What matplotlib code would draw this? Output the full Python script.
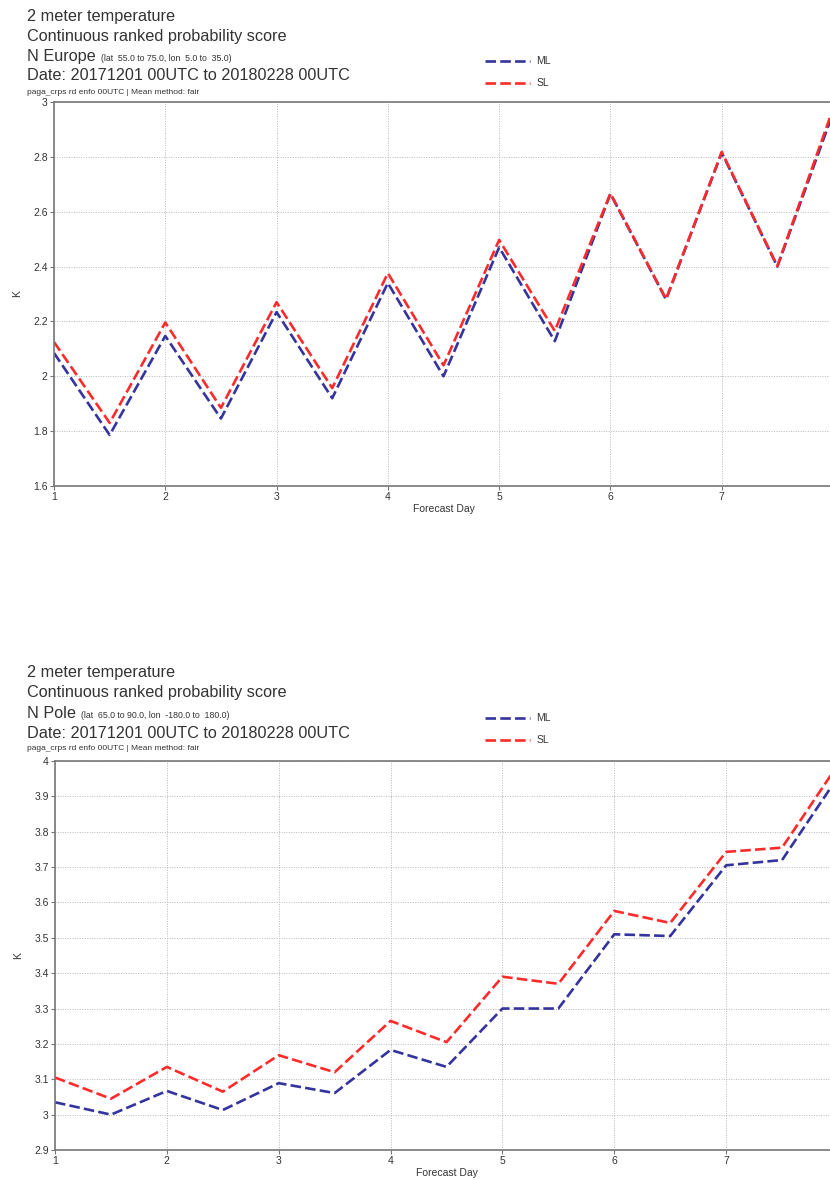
import matplotlib
matplotlib.use("Agg")
import matplotlib.pyplot as plt
from matplotlib.ticker import FuncFormatter, MultipleLocator

plt.rcParams["font.family"] = ["Liberation Sans", "DejaVu Sans"]

# Forecast steps (days)
days = [1, 1.5, 2, 2.5, 3, 3.5, 4, 4.5, 5, 5.5, 6, 6.5, 7, 7.5, 8]

# N Europe CRPS (K)
eu_ml = [2.085, 1.786, 2.147, 1.846, 2.234, 1.92, 2.34, 2.0, 2.47, 2.128,
         2.665, 2.28, 2.815, 2.40, 2.96]
eu_sl = [2.125, 1.83, 2.196, 1.885, 2.27, 1.957, 2.376, 2.04, 2.497, 2.165,
         2.667, 2.282, 2.818, 2.402, 2.975]

# N Pole CRPS (K)
np_ml = [3.035, 3.0, 3.067, 3.013, 3.089, 3.061, 3.183, 3.135, 3.30, 3.30,
         3.51, 3.505, 3.705, 3.72, 3.955]
np_sl = [3.105, 3.045, 3.135, 3.065, 3.168, 3.12, 3.265, 3.205, 3.39, 3.37,
         3.576, 3.542, 3.743, 3.755, 3.99]

series_labels = ["ML", "SL"]
series_colors = ["#34349e", "#ff2b2b"]

panels = [
    dict(region="N Europe", bounds="(lat  55.0 to 75.0, lon  5.0 to  35.0)",
         ml=eu_ml, sl=eu_sl, ylim=(1.6, 3.0), ystep=0.2),
    dict(region="N Pole", bounds="(lat  65.0 to 90.0, lon  -180.0 to  180.0)",
         ml=np_ml, sl=np_sl, ylim=(2.9, 4.0), ystep=0.1),
]

W, H = 830, 1180
fig = plt.figure(figsize=(W / 100, H / 100), dpi=100)
renderer = fig.canvas.get_renderer()

# pixel layout of each panel: axes left/right/top/bottom, title top offset
layouts = [dict(ax_left=54, ax_right=833, ax_top=102, ax_bot=486, title_y=16),
           dict(ax_left=55, ax_right=838, ax_top=761, ax_bot=1150, title_y=673)]

text_grey = "#333333"

for p, lay in zip(panels, layouts):
    left = lay["ax_left"] / W
    width = (lay["ax_right"] - lay["ax_left"]) / W
    bottom = 1 - lay["ax_bot"] / H
    height = (lay["ax_bot"] - lay["ax_top"]) / H
    ax = fig.add_axes([left, bottom, width, height])

    lines = []
    for vals, lab, col in zip([p["ml"], p["sl"]], series_labels, series_colors):
        ln, = ax.plot(days, vals, color=col, lw=1.9, linestyle=(0, (4.0, 1.6)),
                      label=lab, dash_capstyle="butt")
        lines.append(ln)

    ax.set_xlim(1, 8)
    ax.set_ylim(*p["ylim"])
    ax.xaxis.set_major_locator(MultipleLocator(1))
    ax.yaxis.set_major_locator(MultipleLocator(p["ystep"]))
    ax.yaxis.set_major_formatter(FuncFormatter(lambda v, pos: f"{round(v, 3):g}"))
    ax.xaxis.set_major_formatter(FuncFormatter(lambda v, pos: f"{v:g}"))

    ax.grid(True, color="#b8b8b8", linestyle=(0, (1, 1.5)), linewidth=0.7)
    for side in ["left", "bottom", "top"]:
        ax.spines[side].set_color("#777777")
        ax.spines[side].set_linewidth(1.2)
    ax.spines["right"].set_visible(False)
    ax.tick_params(axis="both", labelsize=7.5, colors="#777777",
                   labelcolor=text_grey, length=3, width=0.8, pad=1.5)
    ax.set_xlabel("Forecast Day", fontsize=7.5, color=text_grey, labelpad=1)
    ax.set_ylabel("K", fontsize=7.5, color=text_grey, labelpad=8)

    # Title block
    tx = 27 / W
    y0 = lay["title_y"]
    big = 11.7
    fig.text(tx, 1 - y0 / H, "2 meter temperature", fontsize=big,
             color=text_grey, va="center")
    fig.text(tx, 1 - (y0 + 20) / H, "Continuous ranked probability score",
             fontsize=big, color=text_grey, va="center")
    t = fig.text(tx, 1 - (y0 + 45) / H, p["region"], fontsize=big,
                 color=text_grey, va="baseline")
    ext = t.get_window_extent(renderer)
    fig.text((ext.x1 + 5) / W, 1 - (y0 + 45) / H, p["bounds"], fontsize=6.3,
             color=text_grey, va="baseline")
    fig.text(tx, 1 - (y0 + 60) / H, "Date: 20171201 00UTC to 20180228 00UTC",
             fontsize=big, color=text_grey, va="center")
    fig.text(tx, 1 - (y0 + 76) / H, "paga_crps rd enfo 00UTC | Mean method: fair",
             fontsize=6, color=text_grey, va="center")

    # Legend
    leg_top = y0 + 31
    fig.legend(handles=lines, labels=series_labels,
               loc="upper left", bbox_to_anchor=(476 / W, 1 - leg_top / H),
               frameon=False, fontsize=7.5, handlelength=4.3,
               labelspacing=1.15, handletextpad=0.6, labelcolor=text_grey)

fig.savefig("out.png", dpi=100)
